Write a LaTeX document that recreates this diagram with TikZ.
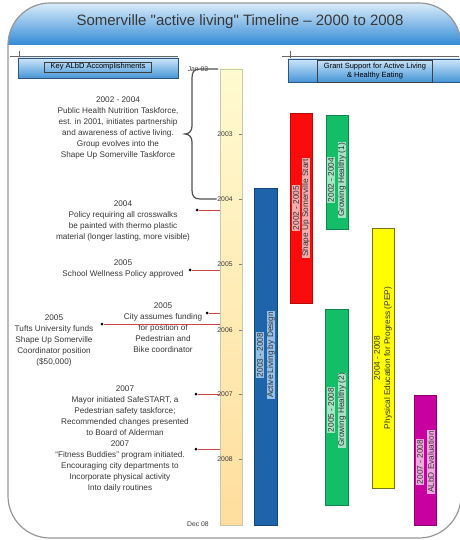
\documentclass[tikz,border=0pt]{standalone}
\usepackage{fontspec}
\setmainfont{Liberation Sans}
\usepackage{tikz}

\definecolor{hdrtop}{RGB}{218,236,250}
\definecolor{hdrbot}{RGB}{50,138,214}
\definecolor{framegray}{RGB}{150,150,150}
\definecolor{txtgray}{RGB}{55,55,55}
\definecolor{bracegray}{RGB}{80,80,80}
\definecolor{tltop}{RGB}{255,250,208}
\definecolor{tlbot}{RGB}{255,222,158}
\definecolor{tledge}{RGB}{196,204,170}
\definecolor{evred}{RGB}{205,70,70}
\definecolor{sectop}{RGB}{205,230,250}
\definecolor{secbot}{RGB}{70,150,215}
\definecolor{secedge}{RGB}{45,85,125}
\definecolor{albdblue}{RGB}{30,100,170}
\definecolor{albdlight}{RGB}{150,192,228}
\definecolor{surred}{RGB}{250,12,12}
\definecolor{surlight}{RGB}{245,172,172}
\definecolor{ghgreen}{RGB}{20,190,105}
\definecolor{ghlight}{RGB}{165,228,195}
\definecolor{pepyellow}{RGB}{255,255,0}
\definecolor{evalmag}{RGB}{200,0,160}
\definecolor{evallight}{RGB}{236,172,222}

\tikzset{
	evtext/.style={align=center, text=txtgray, inner sep=0pt, font=\fontsize{8.2}{11}\selectfont},
	yrlabel/.style={text=txtgray, inner sep=0.5pt, font=\fontsize{6.8}{7}\selectfont},
	evdot/.style={circle, fill=black, inner sep=0pt, minimum size=3pt},
	evline/.style={evred, line width=0.6pt},
	barlabel/.style={rotate=90, inner sep=0.6pt, text=black!80, font=\fontsize{8.3}{9}\selectfont},
	secbar/.style={draw=secedge, top color=sectop, bottom color=secbot}
}

\begin{document}
\begin{tikzpicture}[x=1pt, y=-1pt]
			\useasboundingbox (0, 0) rectangle (459, 540);
			\begin{scope}
				\clip[rounded corners=42pt] (8, 3) rectangle (461, 538);
				\shade[top color=hdrtop, bottom color=hdrbot] (8, 3) rectangle (461, 45);
			\end{scope}
			\draw[framegray, line width=1.2pt, rounded corners=42pt] (8, 3) rectangle (461, 538);
			\node[text=txtgray, font=\fontsize{15}{18}\selectfont] (title) at (240, 22) {Somerville \textquotedbl active living\textquotedbl{} Timeline -- 2000 to 2008};

			\draw[black!60] (10, 56) -- (178, 56);
			\draw[black!60] (19, 51) -- (19, 61);
			\draw[secbar] (18, 58) rectangle (178, 78);
			\node[draw=black!75, minimum width=107pt, minimum height=10pt, inner sep=0.5pt, font=\fontsize{7.5}{8}\selectfont] (keyacc) at (98, 67) {Key ALbD Accomplishments};
			\draw[black!60] (282, 56) -- (459, 56);
			\draw[black!60] (290, 51) -- (290, 61);
			\draw[secbar] (288, 59) rectangle (463, 82);
			\node[draw=black!75, align=center, minimum width=115pt, minimum height=22pt, inner sep=0.5pt, font=\fontsize{7.5}{8.5}\selectfont] (grant) at (375, 71) {Grant Support for Active Living\\\& Healthy Eating};

			\node[draw=tledge, top color=tltop, bottom color=tlbot, minimum width=22pt, minimum height=456pt, inner sep=0pt] (tl) at (231, 297) {};
			\node[yrlabel] (jan03) at (198, 69) {Jan 03};
			\node[yrlabel] (dec08) at (198, 524) {Dec 08};
			\foreach \yr/\ypos in {2003/134, 2004/199, 2005/264, 2006/330, 2007/394, 2008/459} {
				\node[yrlabel] (y\yr) at (225, \ypos) {\yr};
				\draw[black!50] (239, \ypos) -- (242, \ypos);
			}
			\draw[bracegray, line width=1.2pt] (218, 69) -- (200, 69) .. controls (194, 69) and (192, 72) .. (192, 78) -- (192, 126) .. controls (192, 131) and (189, 134) .. (185, 134) .. controls (189, 134) and (192, 137) .. (192, 142) -- (192, 190) .. controls (192, 196) and (194, 199) .. (200, 199) -- (y2004.west);

			\node[evtext] (ev1) at (118, 128) {2002 - 2004\\Public Health Nutrition Taskforce,\\est. in 2001, initiates partnership\\and awareness of active living.\\Group evolves into the\\Shape Up Somerville Taskforce};
			\node[evtext] (ev2) at (123, 221) {2004\\Policy requiring all crosswalks\\be painted with thermo plastic\\material (longer lasting, more visible)};
			\node[evtext] (ev3) at (123, 269) {2005\\School Wellness Policy approved};
			\node[evtext] (ev4) at (163, 328) {2005\\City assumes funding\\for position of\\Pedestrian and\\Bike coordinator};
			\node[evtext] (ev5) at (54, 340) {2005\\Tufts University funds\\Shape Up Somerville\\Coordinator position\\(\$50,000)};
			\node[evtext] (ev6) at (125, 411) {2007\\Mayor initiated SafeSTART, a\\Pedestrian safety taskforce;\\Recommended changes presented\\to Board of Alderman};
			\node[evtext] (ev7) at (120, 466) {2007\\“Fitness Buddies” program initiated.\\Encouraging city departments to\\Incorporate physical activity\\Into daily routines};

			\node[evdot] (d1) at (197, 210) {};
			\node[evdot] (d2) at (190, 270) {};
			\node[evdot] (d3) at (207, 313) {};
			\node[evdot] (d4) at (102, 324) {};
			\node[evdot] (d5) at (196, 394) {};
			\node[evdot] (d6) at (196, 449) {};
			\foreach \d in {d1, d2, d3, d4, d5, d6}
				\draw[evline] (\d) -- (\d -| tl.west);

			\filldraw[fill=albdblue, draw=albdblue!70!black] (254, 188) rectangle (277, 525);
			\node[barlabel, fill=albdlight] (albd-yr) at (260, 355) {2003 - 2008};
			\node[barlabel, fill=albdlight] (albd) at (271, 355) {Active Living by Design};
			\filldraw[fill=surred, draw=surred!75!black] (290, 113) rectangle (312, 303);
			\node[barlabel, fill=surlight] (sus-yr) at (296, 208) {2002 - 2005};
			\node[barlabel, fill=surlight] (sus) at (306, 208) {Shape Up Somerville Start};
			\filldraw[fill=ghgreen, draw=ghgreen!70!black] (326, 115) rectangle (348, 229);
			\node[barlabel, fill=ghlight] (gh1-yr) at (331, 180) {2002 - 2004};
			\node[barlabel, fill=ghlight] (gh1) at (342, 180) {Growing Healthy (1)};
			\filldraw[fill=ghgreen, draw=ghgreen!70!black] (325, 309) rectangle (348, 505);
			\node[barlabel, fill=ghlight] (gh2-yr) at (331, 410) {2005 - 2008};
			\node[barlabel, fill=ghlight] (gh2) at (342, 410) {Growing Healthy (2)};
			\filldraw[fill=pepyellow, draw=olive!80!black] (372, 228) rectangle (394, 488);
			\node[barlabel] (pep-yr) at (377, 358) {2004 - 2008};
			\node[barlabel] (pep) at (388, 358) {Physical Education for Progress (PEP)};
			\filldraw[fill=evalmag, draw=evalmag!70!black] (414, 395) rectangle (436, 525);
			\node[barlabel, fill=evallight] (eval-yr) at (420, 462) {2007 - 2008};
			\node[barlabel, fill=evallight] (eval) at (431, 462) {ALbD Evaluation};
		\end{tikzpicture}
\end{document}
